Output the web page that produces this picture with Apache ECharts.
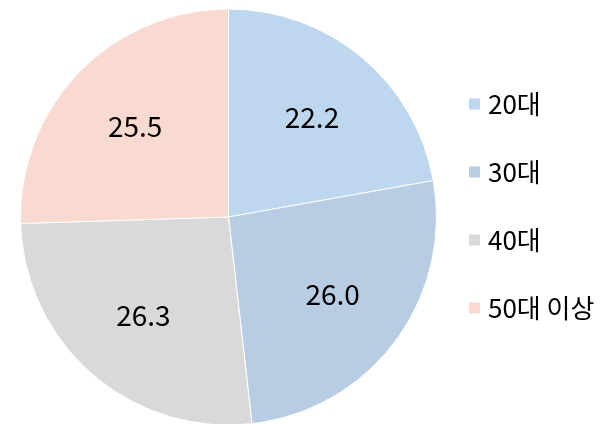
<!DOCTYPE html>
<html><head><meta charset="utf-8">
<script src="https://cdn.jsdelivr.net/npm/echarts@6/dist/echarts.min.js"></script>
<style>html,body{margin:0;padding:0;background:#fff}#c{width:608px;height:424px}</style>
</head><body><div id="c"></div>
<script>
const categories = ['20대', '30대', '40대', '50대 이상'];
const values = [22.2, 26.0, 26.3, 25.5];
const colors = ['#BDD7EE', '#B8CCE4', '#D9D9D9', '#F9DAD0'];
const chart = echarts.init(document.getElementById('c'));
const font = '"Noto Sans CJK KR", "Noto Sans", sans-serif';
chart.setOption({
  animation: false,
  backgroundColor: '#fff',
  color: colors,
  legend: {
    orient: 'vertical', left: 462, top: 85,
    itemWidth: 13, itemHeight: 13, itemGap: 40,
    icon: 'rect',
    textStyle: { fontFamily: font, fontSize: 26, color: '#000', lineHeight: 28, padding: [0,0,0,2] },
    data: categories
  },
  series: [{
    type: 'pie',
    center: [228.5, 217],
    radius: [0, 208],
    startAngle: 90,
    clockwise: true,
    itemStyle: { borderColor: '#fff', borderWidth: 1 },
    label: { show: false },
    labelLine: { show: false },
    data: categories.map((c, i) => ({ name: c, value: values[i] }))
  }, {
    type: 'pie',
    center: [228.5, 217],
    radius: [46, 208],
    startAngle: 90,
    clockwise: true,
    silent: true,
    itemStyle: { color: 'rgba(0,0,0,0)' },
    label: { position: 'inside', formatter: p => p.value.toFixed(1), fontFamily: font, fontSize: 28, color: '#000' },
    labelLine: { show: false },
    data: categories.map((c, i) => ({ name: c + '_label', value: values[i] }))
  }]
});
</script></body></html>
